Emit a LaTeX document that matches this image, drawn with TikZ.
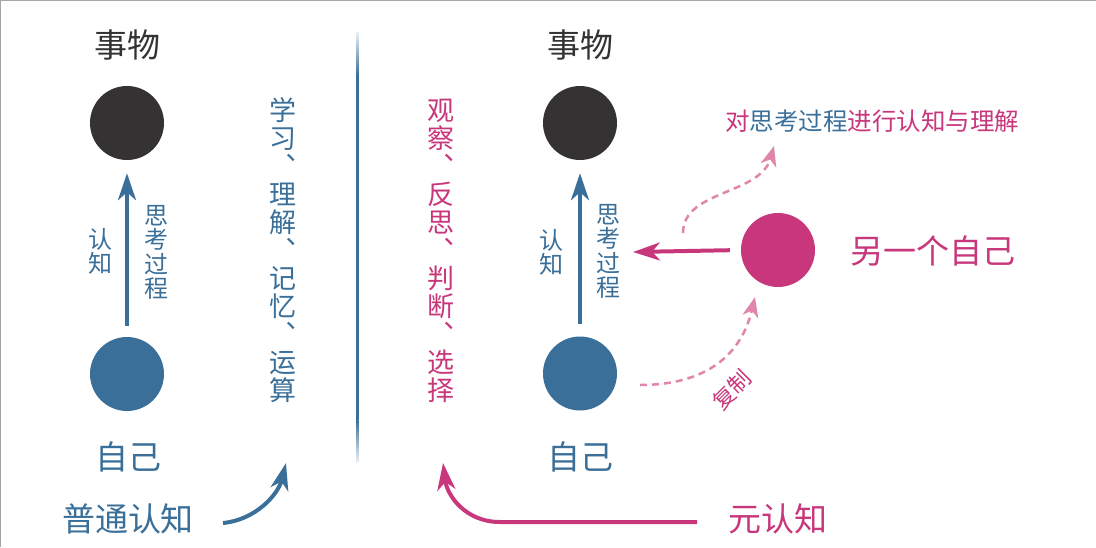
\documentclass[tikz,border=0pt]{standalone}
\usepackage{fontspec}
\setmainfont{Noto Sans CJK SC}
\usetikzlibrary{arrows.meta}
\definecolor{cblue}{HTML}{3A6F99}
\definecolor{cdark}{HTML}{353233}
\definecolor{cpink}{HTML}{C8377B}
\definecolor{clpink}{HTML}{E085AC}
\begin{document}
\begin{tikzpicture}[x=1pt,y=-1pt,
  big/.style={font=\fontsize{33}{36}\selectfont, inner sep=0pt},
  vert/.style={font=\fontsize{27}{28}\selectfont, align=center, inner sep=0pt},
  small/.style={font=\fontsize{24}{24.3}\selectfont, align=center, inner sep=0pt},
  dot/.style={circle, minimum size=74pt, inner sep=0pt},
  mainarrow/.style={line width=4pt, -{Stealth[length=27pt,width=18pt,inset=8pt]}},
  dasharrow/.style={line width=2.5pt, clpink, dash pattern=on 7pt off 5pt, -{Stealth[length=20pt,width=16pt,inset=6pt]}},
]
\useasboundingbox (0,0) rectangle (1096,547);
\fill[white] (0,0) rectangle (1096,547);
\draw[gray!70, line width=2pt] (0,547) -- (0,0) -- (1096,0);

% left part
\node[big, cdark] (thing1) at (127,45) {事物};
\node[dot, fill=cdark] (obj1) at (127,123) {};
\node[dot, fill=cblue] (self1) at (127,374) {};
\node[big, cblue] (selflab1) at (128,457) {自己};
\draw[mainarrow, cblue, shorten <=11pt, shorten >=13pt] (self1) -- (obj1);
\node[small, cblue] (rz1) at (100,251.5) {认\\知};
\node[small, cblue] (sk1) at (156,252.5) {思\\考\\过\\程};
\node[vert, cblue] (ops1) at (283,250.5) {学\\习\\︑\\理\\解\\︑\\记\\忆\\︑\\运\\算};
\node[big, cblue] (ord) at (128,519) {普通认知};
\coordinate (ordstart) at (223,523);
\coordinate (ordend) at (286,463);
\draw[mainarrow, cblue] (ordstart) .. controls (255,520) and (278,495) .. (ordend);

% divider
\fill[cblue] (356,75) rectangle (358.5,420);
\shade[top color=cblue!10, bottom color=cblue] (356,32) rectangle (358.5,75);
\shade[top color=cblue, bottom color=cblue!10] (356,420) rectangle (358.5,462);

% right part
\node[big, cdark] (thing2) at (580,45) {事物};
\node[dot, fill=cdark] (obj2) at (580,123) {};
\node[dot, fill=cblue] (self2) at (580,373.5) {};
\node[big, cblue] (selflab2) at (580,457) {自己};
\draw[mainarrow, cblue, shorten <=12pt, shorten >=13pt] (self2) -- (obj2);
\node[small, cblue] (rz2) at (551,252.5) {认\\知};
\node[small, cblue] (sk2) at (608,251.5) {思\\考\\过\\程};
\node[vert, cpink] (ops2) at (441,250.5) {观\\察\\︑\\反\\思\\︑\\判\\断\\︑\\选\\择};

\node[dot, fill=cpink] (other) at (778,250) {};
\node[big, cpink] (otherlab) at (933,251) {另一个自己};
\coordinate (hend) at (633,252);
\draw[mainarrow, cpink, shorten <=11pt] (other.west) -- (hend);

\node[font=\fontsize{24.5}{26}\selectfont, inner sep=0pt] (meta) at (872,121)
  {\textcolor{cpink}{对}\textcolor{cblue}{思考过程}\textcolor{cpink}{进行认知与理解}};
\coordinate (d1s) at (683,233);
\coordinate (d1e) at (774,146);
\draw[dasharrow] (d1s) .. controls (683,190) and (760,195) .. (d1e);
\coordinate (d2s) at (640,385);
\coordinate (d2e) at (755,297);
\draw[dasharrow] (d2s) .. controls (700,385) and (740,360) .. (d2e);
\node[font=\fontsize{22}{22}\selectfont, text=cpink, rotate=45, inner sep=0pt] (copy) at (732,390) {复制};

\node[big, cpink] (metalab) at (778,519) {元认知};
\coordinate (mstart) at (697,522);
\coordinate (mend) at (443,463);
\draw[mainarrow, cpink] (mstart) -- (500,522) .. controls (465,522) and (447,495) .. (mend);
\end{tikzpicture}
\end{document}
